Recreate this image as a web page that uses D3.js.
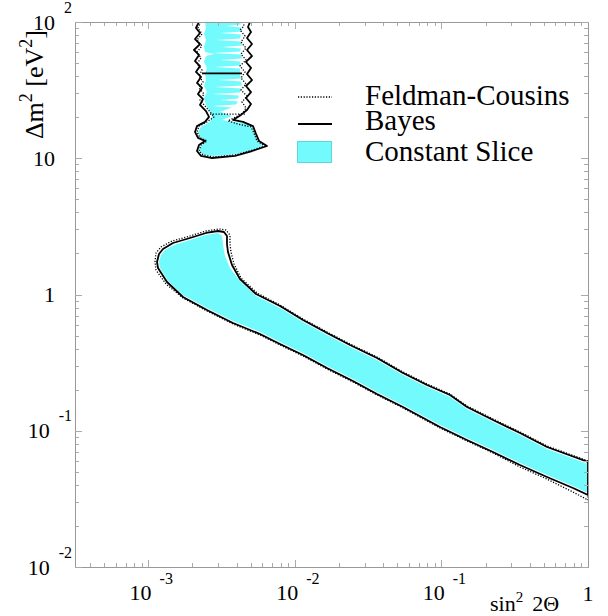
<!DOCTYPE html>
<html><head><meta charset="utf-8">
<script src="https://cdn.jsdelivr.net/npm/d3@7"></script>
<style>body{margin:0;background:#fff} svg text{font-family:"Liberation Serif","Nimbus Roman","Times New Roman","DejaVu Serif","Noto Serif",serif;}</style>
</head><body><svg id="c" width="608" height="616"></svg>
<script>
// ---- data: contours in (sin^2 2theta, dm^2 [eV^2]) ----
const bayesBand = [[1.147e-3,1.732],[1.183e-3,1.983],[1.260e-3,2.158],[1.474e-3,2.388],[1.926e-3,2.598],[2.476e-3,2.828],[2.989e-3,2.925],[3.285e-3,2.876],[3.443e-3,2.688],[3.443e-3,2.348],[3.497e-3,2.051],[3.724e-3,1.646],[4.223e-3,1.300],[5.430e-3,1.009],[7.92e-3,0.823],[1.136e-2,0.650],[1.657e-2,0.522],[2.378e-2,0.426],[3.634e-2,0.342],[5.467e-2,0.2654],[7.97e-2,0.2167],[0.1144,0.1830],[0.1494,0.1494],[0.2248,0.1199],[0.3437,0.0963],[0.5252,0.0760],[1,0.0590],[1,0.0338],[0.790,0.0380],[0.5252,0.0458],[0.3437,0.0561],[0.2248,0.0698],[0.1494,0.0855],[9.78e-2,0.1066],[5.467e-2,0.1494],[3.634e-2,0.1861],[2.492e-2,0.2318],[1.657e-2,0.2888],[1.136e-2,0.3597],[7.92e-3,0.4333],[5.785e-3,0.5129],[3.784e-3,0.6178],[2.515e-3,0.7697],[1.726e-3,0.9587],[1.342e-3,1.235],[1.165e-3,1.565]];
const fcBand = [[1.111e-3,1.732],[1.129e-3,2.017],[1.221e-3,2.232],[1.451e-3,2.470],[1.926e-3,2.688],[2.476e-3,2.925],[3.037e-3,3.025],[3.391e-3,2.974],[3.609e-3,2.734],[3.609e-3,2.348],[3.666e-3,2.051],[3.844e-3,1.675],[4.291e-3,1.322],[5.516e-3,1.026],[7.92e-3,0.837],[1.136e-2,0.661],[1.657e-2,0.531],[2.378e-2,0.4333],[3.634e-2,0.3477],[5.467e-2,0.2700],[7.97e-2,0.2204],[0.1144,0.1861],[0.1494,0.1519],[0.2248,0.1220],[0.3437,0.0979],[0.5252,0.0773],[1,0.0600],[1,0.0310],[0.790,0.0355],[0.5252,0.0442],[0.3437,0.0542],[0.2248,0.0687],[0.1494,0.0841],[9.78e-2,0.1048],[5.467e-2,0.1469],[3.634e-2,0.1830],[2.492e-2,0.2279],[1.657e-2,0.2840],[1.136e-2,0.3538],[7.92e-3,0.426],[5.785e-3,0.504],[3.784e-3,0.6075],[2.515e-3,0.7565],[1.726e-3,0.9426],[1.321e-3,1.194],[1.129e-3,1.513]];
const sliceBand = [[1.183e-3,1.732],[1.221e-3,1.950],[1.300e-3,2.121],[1.498e-3,2.308],[1.926e-3,2.512],[2.476e-3,2.734],[2.989e-3,2.828],[3.184e-3,2.688],[3.235e-3,2.308],[3.338e-3,1.918],[3.609e-3,1.565],[4.223e-3,1.256],[5.430e-3,0.975],[7.92e-3,0.796],[1.136e-2,0.628],[1.657e-2,0.504],[2.378e-2,0.412],[3.634e-2,0.331],[5.467e-2,0.2566],[7.97e-2,0.2096],[0.1144,0.1769],[0.1494,0.1444],[0.2248,0.1159],[0.3437,0.0931],[0.5252,0.0735],[1,0.0570],[1,0.0349],[0.790,0.0393],[0.5252,0.0473],[0.3437,0.0580],[0.2248,0.0722],[0.1494,0.0885],[9.78e-2,0.1102],[5.467e-2,0.1545],[3.634e-2,0.1925],[2.492e-2,0.2398],[1.657e-2,0.2987],[1.136e-2,0.372],[7.92e-3,0.448],[5.785e-3,0.531],[3.784e-3,0.639],[2.515e-3,0.796],[1.726e-3,0.9915],[1.363e-3,1.256],[1.202e-3,1.565]];

const bayesIsland = [[2.218e-3,100],[2.115e-3,90.4],[2.253e-3,83.1],[2.083e-3,75.0],[2.253e-3,68.9],[2.050e-3,62.3],[2.218e-3,57.3],[2.083e-3,51.7],[2.253e-3,47.5],[2.115e-3,43.0],[2.289e-3,39.5],[2.149e-3,35.7],[2.325e-3,32.8],[2.183e-3,29.6],[2.362e-3,27.2],[2.253e-3,24.6],[2.476e-3,22.2],[2.596e-3,20.1],[2.438e-3,18.5],[2.149e-3,17.2],[2.083e-3,15.6],[2.183e-3,14.1],[2.438e-3,13.4],[2.218e-3,12.5],[2.149e-3,11.3],[2.289e-3,10.4],[2.721e-3,10.04],[3.905e-3,10.4],[5.100e-3,11.3],[6.457e-3,12.3],[5.693e-3,13.4],[5.430e-3,15.1],[5.181e-3,17.2],[4.428e-3,18.5],[3.784e-3,19.1],[4.291e-3,20.8],[4.716e-3,22.6],[5.021e-3,25.0],[4.642e-3,27.7],[5.021e-3,30.6],[4.642e-3,33.9],[5.100e-3,37.5],[4.716e-3,41.5],[5.021e-3,46.0],[4.642e-3,50.9],[5.100e-3,56.3],[4.716e-3,62.3],[5.100e-3,68.9],[4.716e-3,76.3],[5.021e-3,84.5],[4.790e-3,91.9],[4.943e-3,100]];
const bayesIslandCut = [[2.325e-3,42.0],[4.358e-3,42.0]];
const fcIsland = [[2.289e-3,100],[2.183e-3,90.4],[2.325e-3,81.6],[2.149e-3,73.8],[2.325e-3,66.7],[2.149e-3,60.2],[2.289e-3,54.4],[2.149e-3,49.2],[2.325e-3,44.4],[2.218e-3,40.2],[2.362e-3,36.3],[2.218e-3,32.8],[2.399e-3,29.6],[2.253e-3,26.8],[2.438e-3,24.2],[2.637e-3,21.9],[2.808e-3,20.1],[2.515e-3,18.5],[2.218e-3,17.2],[2.149e-3,15.6],[2.253e-3,14.1],[2.515e-3,13.4],[2.289e-3,12.5],[2.218e-3,11.3],[2.362e-3,10.6],[2.764e-3,10.2],[3.967e-3,10.6],[5.181e-3,11.5],[6.256e-3,12.3],[5.516e-3,13.4],[5.263e-3,15.3],[5.021e-3,17.0],[4.093e-3,17.8],[3.497e-3,18.8],[3.967e-3,20.1],[4.428e-3,21.5],[4.642e-3,23.4],[4.358e-3,25.9],[4.716e-3,28.6],[4.291e-3,31.7],[4.642e-3,35.1],[4.291e-3,38.8],[4.570e-3,43.0],[4.223e-3,47.5],[4.642e-3,52.6],[4.291e-3,58.2],[4.642e-3,64.4],[4.291e-3,71.3],[4.570e-3,78.9],[4.223e-3,87.4],[4.498e-3,93.5],[4.428e-3,100]];
const fcIslandNeck = [[2.637e-3,21.1],[4.570e-3,21.1]];
const sliceIsland = [[2.438e-3,100],[4.223e-3,100],
  [4.291e-3,95.9],[3.391e-3,93.5],[4.291e-3,91.1],
  [4.358e-3,85.2],[3.085e-3,83.1],[4.291e-3,80.9],
  [4.223e-3,75.6],[2.897e-3,73.8],[4.291e-3,71.9],
  [4.358e-3,67.2],[3.184e-3,65.5],[4.291e-3,63.9],
  [4.223e-3,60.7],[2.721e-3,59.2],[4.291e-3,57.7],
  [4.358e-3,54.0],[3.085e-3,52.6],[4.223e-3,51.3],
  [4.291e-3,48.0],[2.808e-3,46.7],[4.223e-3,45.6],
  [4.223e-3,43.0],[4.223e-3,40.2],
  [4.358e-3,38.5],[2.989e-3,37.5],[4.291e-3,36.6],
  [4.358e-3,34.2],[2.808e-3,33.4],[4.291e-3,32.5],
  [4.223e-3,30.4],[2.721e-3,29.6],[4.158e-3,28.9],
  [4.093e-3,27.5],[3.085e-3,26.8],[4.093e-3,26.1],
  [3.967e-3,24.8],[2.721e-3,24.2],[3.724e-3,23.6],
  [3.085e-3,21.9],[3.724e-3,20.4],[3.184e-3,19.1],
  [4.943e-3,17.8],[5.263e-3,15.6],[5.516e-3,13.6],[6.064e-3,12.3],[4.943e-3,11.3],[3.844e-3,10.7],[2.721e-3,10.4],[2.325e-3,10.7],[2.218e-3,11.7],[2.325e-3,12.5],[2.476e-3,13.4],[2.253e-3,14.3],[2.183e-3,15.6],[2.289e-3,17.0],[2.637e-3,18.5],[2.721e-3,20.4],[2.596e-3,22.6],[2.476e-3,24.6],[2.399e-3,27.7],[2.515e-3,30.6],[2.399e-3,33.9],[2.476e-3,37.5],[2.438e-3,41.5],[2.515e-3,46.0],[2.399e-3,50.9],[2.476e-3,56.3],[2.808e-3,58.2],[2.438e-3,60.2],[2.399e-3,65.5],[2.476e-3,73.8],[2.399e-3,81.6],[2.476e-3,90.4]];

const xTickValues = [1e-3, 1e-2, 1e-1, 1];
const xTickLabels = ["10^-3", "10^-2", "10^-1", "1"];
const yTickValues = [1e-2, 1e-1, 1, 10, 100];
const yTickLabels = ["10^-2", "10^-1", "1", "10", "10^2"];
const legendLabels = ["Feldman-Cousins", "Bayes", "Constant Slice"];
const xTitle = ["sin", "2", "2\u0398"];
const yTitle = ["\u0394m", "2", " [eV", "2", "]"];

// ---- drawing ----
const W = 608, H = 616;
const L = 75, R = 588, T = 22, B = 567;
const CYAN = "#72fafd";
const AX = "#999";
const svg = d3.select("#c");
svg.append("rect").attr("width", W).attr("height", H).attr("fill", "#fff");

const x = d3.scaleLog().domain([Math.pow(10, -3.5), 1]).range([L, R]);
const y = d3.scaleLog().domain([0.01, 100]).range([B, T]);

svg.append("clipPath").attr("id", "clip").append("rect")
  .attr("x", L).attr("y", T).attr("width", R - L).attr("height", B - T);
const plot = svg.append("g").attr("clip-path", "url(#clip)");

const line = d3.line().x(d => x(d[0])).y(d => y(d[1])).curve(d3.curveLinear);
const closed = d3.line().x(d => x(d[0])).y(d => y(d[1])).curve(d3.curveLinearClosed);

plot.append("path").attr("d", closed(sliceBand)).attr("fill", CYAN).attr("stroke", "none");
plot.append("path").attr("d", closed(sliceIsland)).attr("fill", CYAN).attr("stroke", "none");
[closed(fcBand), line(fcIsland), line(fcIslandNeck)].forEach(d =>
  plot.append("path").attr("d", d).attr("fill", "none").attr("stroke", "#000")
    .attr("stroke-width", 1.3).attr("stroke-dasharray", "1.2,1.6"));
[closed(bayesBand), line(bayesIsland), line(bayesIslandCut)].forEach(d =>
  plot.append("path").attr("d", d).attr("fill", "none").attr("stroke", "#000")
    .attr("stroke-width", 1.8).attr("stroke-linejoin", "round"));

// axes
const isMajor = v => Math.abs(Math.log10(v) - Math.round(Math.log10(v))) < 1e-9;
const xt = x.ticks().filter(v => v >= x.domain()[0] && v <= 1);
const yt = y.ticks();
function styleAxis(g) {
  g.selectAll(".domain").attr("stroke", AX).attr("stroke-width", 1).attr("shape-rendering", "crispEdges");
  g.selectAll(".tick line").attr("stroke", "#aaa").attr("stroke-width", 1).attr("shape-rendering", "crispEdges");
  g.selectAll(".tick text").remove();
}
function addAxis(gen, tr) {
  svg.append("g").attr("transform", tr).call(gen.tickSizeOuter(0).tickFormat("")).call(styleAxis);
}
addAxis(d3.axisBottom(x).tickValues(xt.filter(v => !isMajor(v))).tickSize(-4), `translate(0,${B})`);
addAxis(d3.axisBottom(x).tickValues(xt.filter(isMajor)).tickSize(-7), `translate(0,${B})`);
addAxis(d3.axisTop(x).tickValues(xt.filter(v => !isMajor(v))).tickSize(-4), `translate(0,${T})`);
addAxis(d3.axisTop(x).tickValues(xt.filter(isMajor)).tickSize(-7), `translate(0,${T})`);
addAxis(d3.axisLeft(y).tickValues(yt.filter(v => !isMajor(v))).tickSize(-4), `translate(${L},0)`);
addAxis(d3.axisLeft(y).tickValues(yt.filter(isMajor)).tickSize(-7), `translate(${L},0)`);
addAxis(d3.axisRight(y).tickValues(yt.filter(v => !isMajor(v))).tickSize(-4), `translate(${R},0)`);
addAxis(d3.axisRight(y).tickValues(yt.filter(isMajor)).tickSize(-7), `translate(${R},0)`);

// tick labels
const labG = svg.append("g").attr("fill", "#000");
function powerLabel(g, lab, fs, sfs, supDy, gap) {
  const parts = lab.split("^");
  const t1 = g.append("text").attr("x", 0).attr("y", 0).style("font-size", fs + "px").text(parts[0]);
  let w = t1.node().getComputedTextLength();
  if (parts.length > 1) {
    const t2 = g.append("text").attr("x", w + gap).attr("y", supDy).style("font-size", sfs + "px").text(parts[1]);
    w = w + gap + t2.node().getComputedTextLength();
  }
  return w;
}
xTickValues.forEach((v, i) => {
  const g = labG.append("g");
  const w = powerLabel(g, xTickLabels[i], 22, 16, -16, 8);
  const cx = x(v) + (xTickLabels[i].includes("^") ? 3 : 0);
  const by = xTickLabels[i].includes("^") ? 600 : 601;
  g.attr("transform", `translate(${cx - w / 2},${by})`);
});
yTickValues.forEach((v, i) => {
  const g = labG.append("g");
  const w = powerLabel(g, yTickLabels[i], 22, 16, -17, 9);
  const right = yTickLabels[i].includes("^") ? 72 : 55;
  g.attr("transform", `translate(${right - w},${y(v) + 7.5})`);
});

// axis titles
const xt1 = labG.append("text").attr("x", 490).attr("y", 611).style("font-size", "22px");
xt1.append("tspan").text(xTitle[0]);
xt1.append("tspan").style("font-size", "15px").attr("dy", -9).text(xTitle[1]);
xt1.append("tspan").attr("dy", 9).attr("dx", 9).text(xTitle[2]);

const yt1 = labG.append("text").attr("transform", "translate(43,30) rotate(-90)")
  .attr("text-anchor", "end").style("font-size", "26px");
yt1.append("tspan").text(yTitle[0]);
yt1.append("tspan").style("font-size", "18px").attr("dy", -11).text(yTitle[1]);
yt1.append("tspan").attr("dy", 11).text(yTitle[2]);
yt1.append("tspan").style("font-size", "18px").attr("dy", -11).text(yTitle[3]);
yt1.append("tspan").attr("dy", 11).text(yTitle[4]);

// legend
const lg = svg.append("g");
lg.append("line").attr("x1", 298).attr("x2", 332).attr("y1", 97).attr("y2", 97)
  .attr("stroke", "#000").attr("stroke-width", 1.3).attr("stroke-dasharray", "1.2,1.6");
lg.append("line").attr("x1", 298).attr("x2", 332).attr("y1", 124).attr("y2", 124)
  .attr("stroke", "#000").attr("stroke-width", 1.8);
lg.append("rect").attr("x", 297.5).attr("y", 141.5).attr("width", 34).attr("height", 21)
  .attr("fill", CYAN).attr("stroke", "#5fd6da").attr("stroke-width", 1);
const lgY = [105, 130, 161];
legendLabels.forEach((t, i) => lg.append("text").attr("x", 365).attr("y", lgY[i])
  .style("font-size", "29px").attr("fill", "#000").text(t));
</script></body></html>
